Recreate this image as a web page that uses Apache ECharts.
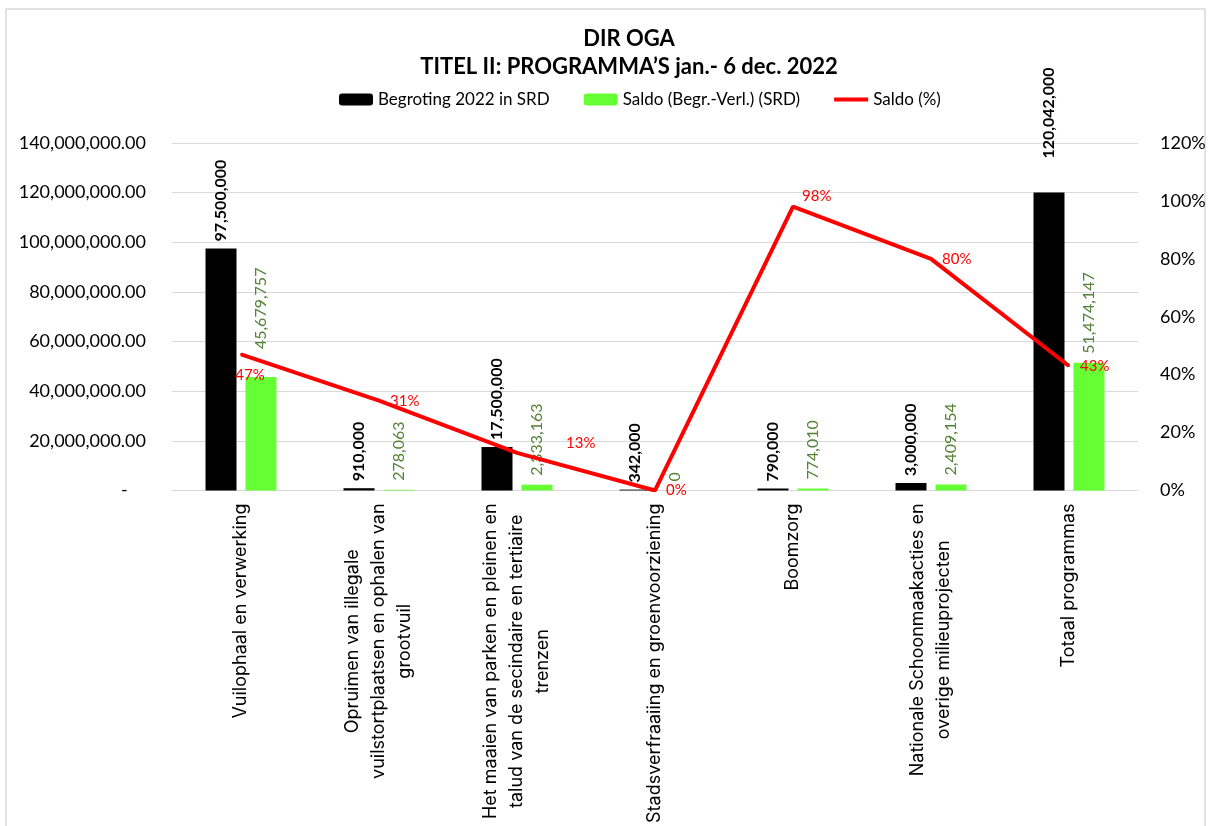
<!DOCTYPE html>
<html>
<head>
<meta charset="utf-8">
<script src="https://cdn.jsdelivr.net/npm/echarts@6/dist/echarts.min.js"></script>
<style>
  html, body { margin: 0; padding: 0; background: #fff; }
  #main { width: 1210px; height: 826px; }
</style>
</head>
<body>
<div id="main"></div>
<script>
// programma's
var categories = [
    'Vuilophaal en verwerking',
    'Opruimen van illegale\nvuilstortplaatsen en ophalen van\ngrootvuil',
    'Het maaien van parken en pleinen en\ntalud van de secindaire en tertiaire\ntrenzen',
    'Stadsverfraaiing en groenvoorziening',
    'Boomzorg',
    'Nationale Schoonmaakacties en\noverige milieuprojecten',
    'Totaal programmas'
];
var begroting = [97500000, 910000, 17500000, 342000, 790000, 3000000, 120042000];
var saldo = [45679757, 278063, 2333163, 0, 774010, 2409154, 51474147];
var saldoPct = [0.47, 0.31, 0.13, 0, 0.98, 0.80, 0.43];

var leftTicks = [0, 20000000, 140000000];   // min, interval, max
var rightTicks = [0, 0.2, 1.2];

// labels that were moved by hand in the original sheet
var begrotingLabelFix = {
    6: { distance: 34, fontFamily: 'Lato', fontSize: 16, fontWeight: 'bold', color: '#000' }
};
var saldoLabelFix = { 0: { distance: 28 } };
var pctLabelFix = {
    0: { position: 'bottom', distance: 12, offset: [9, 0] },
    2: { offset: [38, -10] },
    4: { offset: [-2, -11] }
};

function withLabels(values, fixes) {
    return values.map(function (v, i) {
        return fixes[i] ? { value: v, label: fixes[i] } : v;
    });
}

(function(){
    var myChart = echarts.init(document.getElementById('main'));

    function fmtNum(v) {
        return Number(v).toLocaleString('en-US');
    }

    option = {
        animation: false,
        title: {
            text: 'DIR OGA\nTITEL II: PROGRAMMA\u2019S jan.- 6 dec. 2022',
            left: 624,
            textAlign: 'center',
            top: 20,
            textStyle: {
                fontFamily: 'Lato',
                fontSize: 22,
                fontWeight: 'bold',
                color: '#000',
                lineHeight: 28
            }
        },
        legend: {
            left: 334,
            top: 86,
            itemWidth: 34,
            itemHeight: 12,
            itemGap: 34,
            textStyle: { fontFamily: 'Lato', fontSize: 17, color: '#000' },
            data: [
                { name: 'Begroting 2022 in SRD' },
                { name: 'Saldo (Begr.-Verl.) (SRD)' },
                { name: 'Saldo (%)', icon: 'path://M0,0 L34,0 L34,4 L0,4 Z' }
            ]
        },
        grid: {
            left: 172,
            right: 72,
            top: 143,
            bottom: 334
        },
        graphic: [{
            type: 'rect',
            shape: { x: 6, y: 9, width: 1199, height: 840 },
            style: { fill: 'none', stroke: '#d9d9d9', lineWidth: 1.5 },
            silent: true
        }],
        xAxis: {
            type: 'category',
            data: categories,
            axisLine: { lineStyle: { color: '#d9d9d9', width: 1 } },
            axisTick: { show: false },
            axisLabel: {
                interval: 0,
                rotate: 90,
                margin: 13,
                color: '#000',
                fontFamily: 'Inter',
                fontSize: 18,
                lineHeight: 26,
                formatter: function (v) {
                    return v.split('\n').map(function (s) { return '{c|' + s + '}'; }).join('\n');
                },
                rich: {
                    c: {
                        align: 'center',
                        fontFamily: 'Inter',
                        fontSize: 18,
                        lineHeight: 26,
                        color: '#000'
                    }
                }
            }
        },
        yAxis: [
            {
                type: 'value',
                min: leftTicks[0],
                interval: leftTicks[1],
                max: leftTicks[2],
                axisLine: { show: false },
                axisTick: { show: false },
                splitLine: { lineStyle: { color: '#d9d9d9', width: 1 } },
                axisLabel: {
                    margin: 26,
                    fontFamily: 'Lato',
                    fontSize: 18,
                    color: '#000',
                    formatter: function (v) {
                        if (v === 0) return '-    ';
                        return Number(v).toLocaleString('en-US', { minimumFractionDigits: 2, maximumFractionDigits: 2 });
                    }
                }
            },
            {
                type: 'value',
                min: rightTicks[0],
                interval: rightTicks[1],
                max: rightTicks[2],
                axisLine: { show: false },
                axisTick: { show: false },
                splitLine: { show: false },
                axisLabel: {
                    margin: 22,
                    fontFamily: 'Lato',
                    fontSize: 18,
                    color: '#000',
                    formatter: function (v) { return Math.round(v * 100) + '%'; }
                }
            }
        ],
        series: [
            {
                name: 'Begroting 2022 in SRD',
                type: 'bar',
                barWidth: 31,
                barGap: '29%',
                itemStyle: { color: '#000000' },
                label: {
                    show: true,
                    position: 'top',
                    rotate: 90,
                    align: 'left',
                    verticalAlign: 'middle',
                    distance: 7,
                    fontFamily: 'Lato',
                    fontSize: 16,
                    fontWeight: 'bold',
                    color: '#000',
                    formatter: function (p) { return fmtNum(p.value); }
                },
                data: withLabels(begroting, begrotingLabelFix)
            },
            {
                name: 'Saldo (Begr.-Verl.) (SRD)',
                type: 'bar',
                barWidth: 31,
                itemStyle: { color: '#66ff33' },
                label: {
                    show: true,
                    position: 'top',
                    rotate: 90,
                    align: 'left',
                    verticalAlign: 'middle',
                    distance: 9,
                    fontFamily: 'Lato',
                    fontSize: 16,
                    color: '#548235',
                    formatter: function (p) { return fmtNum(p.value); }
                },
                data: withLabels(saldo, saldoLabelFix)
            },
            {
                name: 'Saldo (%)',
                type: 'line',
                yAxisIndex: 1,
                symbol: 'circle',
                symbolSize: 2,
                showSymbol: true,
                lineStyle: { color: '#ff0000', width: 4 },
                itemStyle: { color: '#ff0000' },
                label: {
                    show: true,
                    position: 'right',
                    distance: 10,
                    fontFamily: 'Lato',
                    fontSize: 15,
                    color: '#ff0000',
                    formatter: function (p) { return Math.round(p.value * 100) + '%'; }
                },
                data: withLabels(saldoPct, pctLabelFix)
            }
        ]
    };
    myChart.setOption(option);
})();
</script>
</body>
</html>
